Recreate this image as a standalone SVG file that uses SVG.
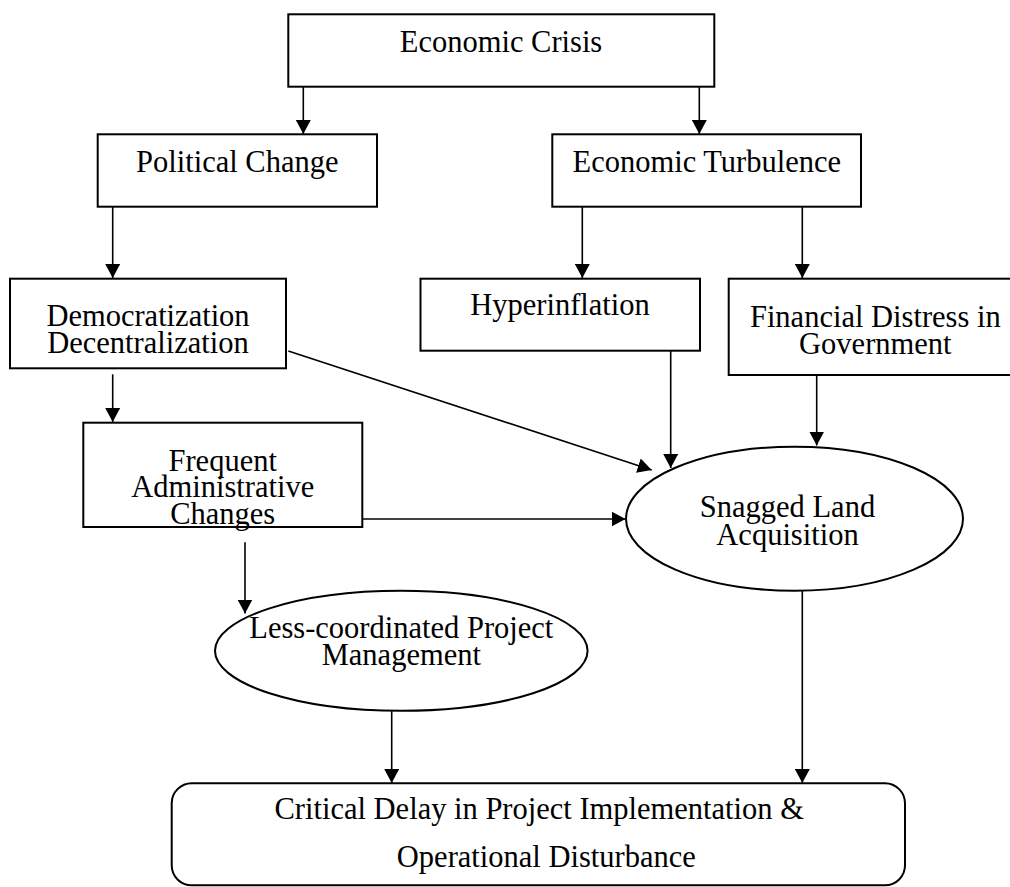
<svg xmlns="http://www.w3.org/2000/svg" width="1010" height="887" viewBox="0 0 1010 887">
  <style>
    .box { fill: #fff; stroke: #000; stroke-width: 2; }
    .edge { stroke: #000; stroke-width: 1.6; fill: none; marker-end: url(#arrow); }
    text { font-family: "Liberation Serif", "Times New Roman", serif; font-size: 30.5px; fill: #000; text-anchor: middle; }
  </style>
  <defs>
    <marker id="arrow" markerUnits="userSpaceOnUse" markerWidth="15" markerHeight="15" refX="14" refY="7.5" orient="auto">
      <path d="M0,0 L14,7.5 L0,15 z" fill="#000"/>
    </marker>
  </defs>

  <rect width="1010" height="887" fill="#fff"/>

  <!-- connectors -->
  <g id="connectors">
    <line class="edge" x1="303.3" y1="86.7" x2="303.3" y2="134"/>
    <line class="edge" x1="699.3" y1="86.7" x2="699.3" y2="134"/>
    <line class="edge" x1="112.7" y1="206.7" x2="112.7" y2="278"/>
    <line class="edge" x1="582.3" y1="206.7" x2="582.3" y2="278"/>
    <line class="edge" x1="802.3" y1="206.7" x2="802.3" y2="278"/>
    <line class="edge" x1="112.7" y1="374.3" x2="112.7" y2="422"/>
    <line class="edge" x1="288.3" y1="351" x2="651.7" y2="470"/>
    <line class="edge" x1="670.7" y1="350.7" x2="670.7" y2="468"/>
    <line class="edge" x1="816.7" y1="375" x2="816.7" y2="445.5"/>
    <line class="edge" x1="362.3" y1="519" x2="625.5" y2="519"/>
    <line class="edge" x1="245" y1="542.3" x2="245" y2="613.5"/>
    <line class="edge" x1="391.7" y1="710.7" x2="391.7" y2="783"/>
    <line class="edge" x1="802.3" y1="590.7" x2="802.3" y2="783"/>
  </g>

  <g id="economic-crisis">
    <rect class="box" x="288.3" y="14.3" width="426" height="72.4"/>
    <text x="501" y="51.7">Economic Crisis</text>
  </g>

  <g id="political-change">
    <rect class="box" x="97.7" y="134.3" width="279.3" height="72.4"/>
    <text x="237.3" y="171.7">Political Change</text>
  </g>

  <g id="economic-turbulence">
    <rect class="box" x="552.3" y="134.3" width="308.7" height="72.4"/>
    <text x="706.8" y="171.7">Economic Turbulence</text>
  </g>

  <g id="democratization">
    <rect class="box" x="10" y="278.7" width="276" height="89.6"/>
    <text x="148" y="325.7">Democratization</text>
    <text x="148" y="353">Decentralization</text>
  </g>

  <g id="hyperinflation">
    <rect class="box" x="420.5" y="278.7" width="279.5" height="72"/>
    <text x="560" y="315">Hyperinflation</text>
  </g>

  <g id="financial-distress">
    <rect class="box" x="728.7" y="278.7" width="293" height="96.3"/>
    <text x="875.3" y="327">Financial Distress in</text>
    <text x="875.3" y="353.5">Government</text>
  </g>

  <g id="frequent-changes">
    <rect class="box" x="83.3" y="422.7" width="279" height="104.3"/>
    <text x="222.7" y="470.7">Frequent</text>
    <text x="222.7" y="497.3">Administrative</text>
    <text x="222.7" y="524.3">Changes</text>
  </g>

  <g id="snagged-land">
    <ellipse class="box" cx="794.5" cy="518.7" rx="168.5" ry="72"/>
    <text x="787.5" y="517">Snagged Land</text>
    <text x="787.5" y="545">Acquisition</text>
  </g>

  <g id="less-coordinated">
    <ellipse class="box" cx="401.3" cy="650.8" rx="186.3" ry="60"/>
    <text x="401.3" y="638.3">Less-coordinated Project</text>
    <text x="401.3" y="665">Management</text>
  </g>

  <g id="critical-delay">
    <rect class="box" x="171.7" y="783.3" width="733.3" height="102" rx="20" ry="20"/>
    <text x="539.2" y="819.3">Critical Delay in Project Implementation &amp;</text>
    <text x="546.3" y="866.7">Operational Disturbance</text>
  </g>
</svg>
